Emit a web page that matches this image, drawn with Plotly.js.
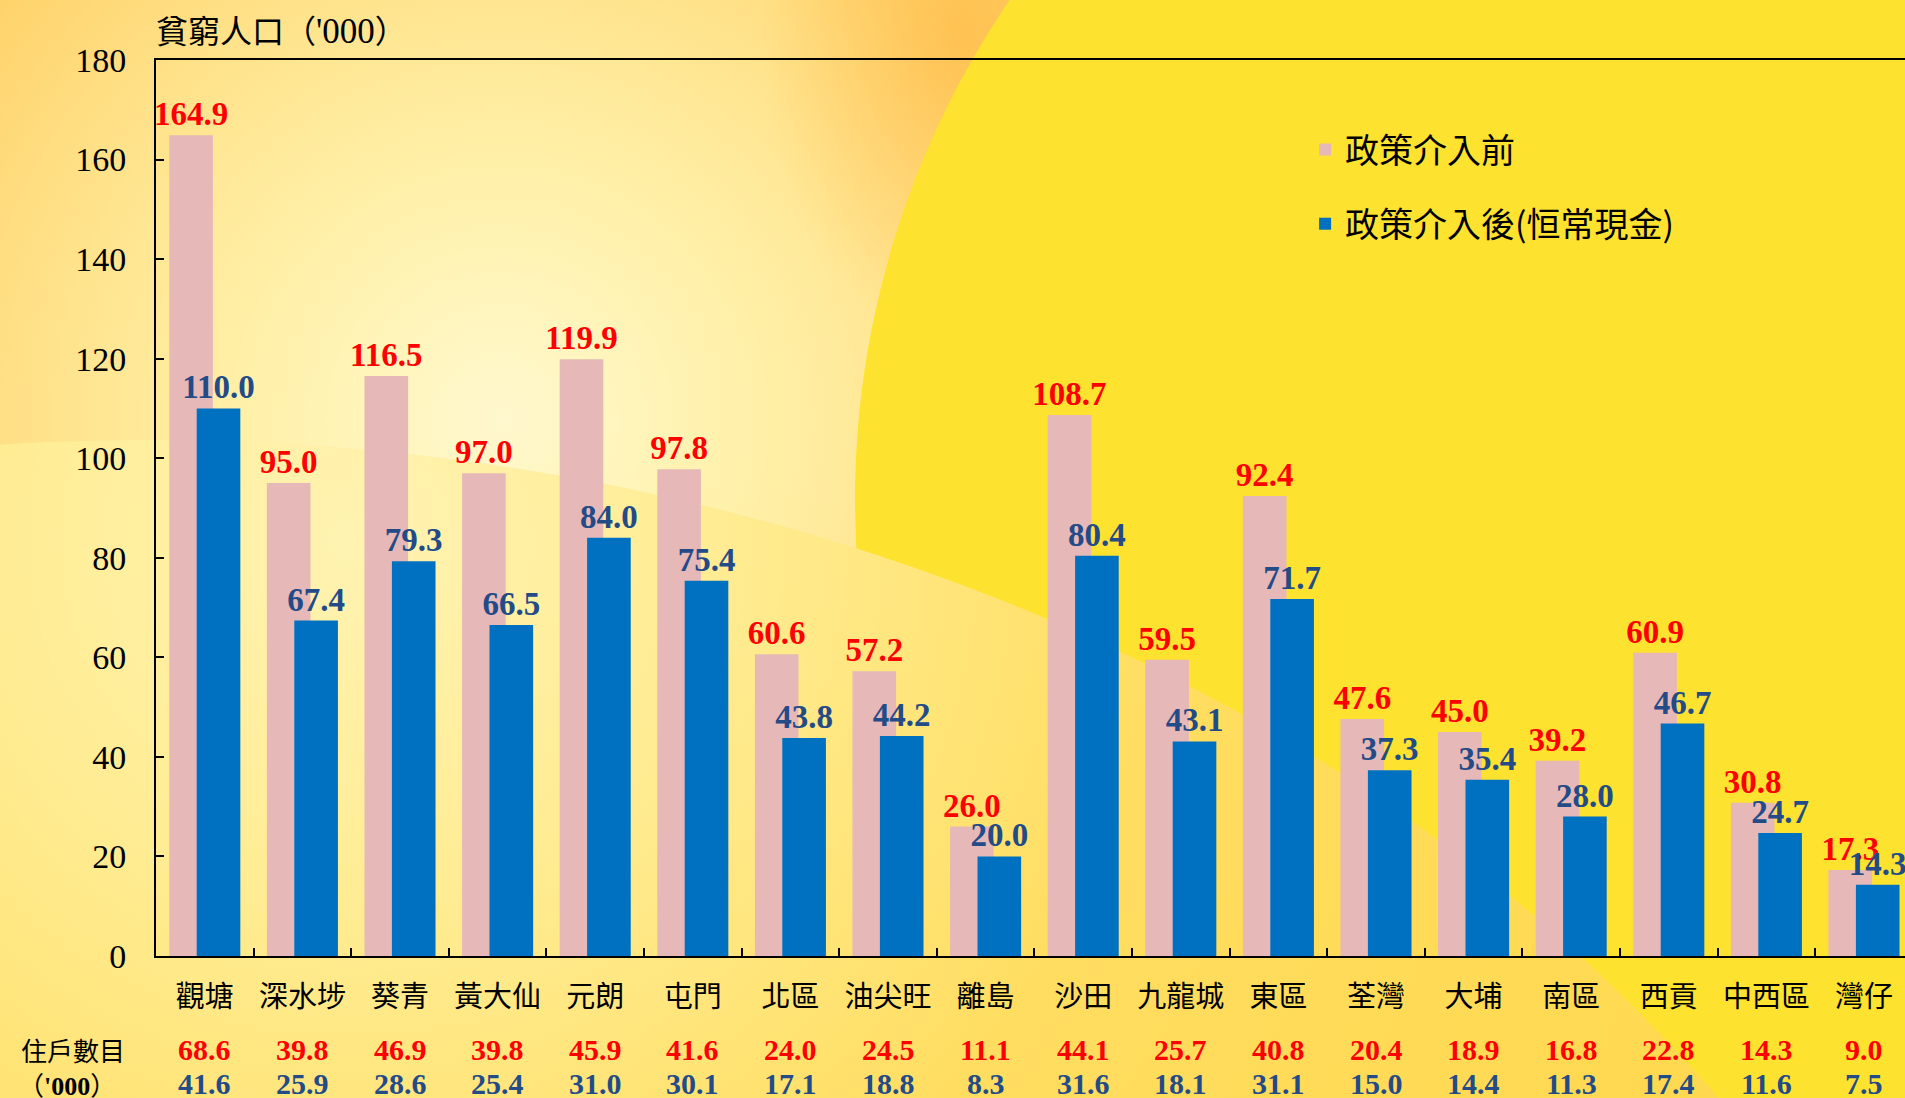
<!DOCTYPE html>
<html>
<head>
<meta charset="utf-8">
<script src="https://cdn.plot.ly/plotly-3.0.1.min.js"></script>
<style>
  html, body { margin: 0; padding: 0; }
  #wrap {
    position: relative; width: 1905px; height: 1098px; overflow: hidden;
    background:
      radial-gradient(ellipse 200px 300px at 960px 40px, rgba(255,180,60,0.6) 0%, rgba(255,190,70,0) 100%),
      radial-gradient(circle 980px at 500px 420px, #FFF8CE 0%, #FFF1AA 25%, #FFE086 50%, #FFCE62 72%, #FFC24E 100%);
  }
  #disc {
    position: absolute; left: 855px; top: -385px; width: 1770px; height: 1770px;
    border-radius: 50%; background: #FDE22F;
  }
  #band {
    position: absolute; left: -1750px; top: 440px; width: 3800px; height: 3020px;
    border-radius: 50%;
    background: radial-gradient(circle 1500px at 2100px 100px, #FFF3B2 0%, #FFEC92 25%, #FFDD60 55%, #FFD84E 100%);
  }
  #chart { position: absolute; left: 0; top: 0; width: 1905px; height: 1098px; }
</style>
</head>
<body>
<div id="wrap">
  <div id="disc"></div>
  <div id="band"></div>
  <div id="chart"></div>
</div>
<script>
// ---- data ----
const categories = ['觀塘','深水埗','葵青','黃大仙','元朗','屯門','北區','油尖旺','離島','沙田','九龍城','東區','荃灣','大埔','南區','西貢','中西區','灣仔'];
const beforeValues = [164.9, 95.0, 116.5, 97.0, 119.9, 97.8, 60.6, 57.2, 26.0, 108.7, 59.5, 92.4, 47.6, 45.0, 39.2, 60.9, 30.8, 17.3];
const afterValues  = [110.0, 67.4, 79.3, 66.5, 84.0, 75.4, 43.8, 44.2, 20.0, 80.4, 43.1, 71.7, 37.3, 35.4, 28.0, 46.7, 24.7, 14.3];
const householdsBefore = [68.6, 39.8, 46.9, 39.8, 45.9, 41.6, 24.0, 24.5, 11.1, 44.1, 25.7, 40.8, 20.4, 18.9, 16.8, 22.8, 14.3, 9.0];
const householdsAfter  = [41.6, 25.9, 28.6, 25.4, 31.0, 30.1, 17.1, 18.8, 8.3, 31.6, 18.1, 31.1, 15.0, 14.4, 11.3, 17.4, 11.6, 7.5];
const seriesNames = ['政策介入前', '政策介入後(恒常現金)'];
const yTickValues = [0, 20, 40, 60, 80, 100, 120, 140, 160, 180];

// ---- styles ----
const SERIF = 'Liberation Serif, Times New Roman, serif';
const CJK = 'Noto Sans CJK TC, sans-serif';
const PINK = '#E6B9B8', BLUE = '#0070C0', RED = '#FF0000', NAVY = '#234B88';

const traces = [
  {
    type: 'bar', name: seriesNames[0], x: categories, y: beforeValues,
    width: 0.447, offset: -0.364, legendgroup: 'a',
    marker: { color: PINK, line: { width: 0 } },
    texttemplate: '%{y:.1f}', textposition: 'outside', constraintext: 'none', cliponaxis: false,
    textfont: { family: SERIF, size: 33, color: RED, weight: 'bold' },
    hoverinfo: 'skip'
  },
  {
    type: 'bar', name: seriesNames[1], x: categories, y: afterValues,
    width: 0.447, offset: -0.083, legendgroup: 'b',
    marker: { color: BLUE, line: { width: 0 } },
    texttemplate: '%{y:.1f}', textposition: 'outside', constraintext: 'none', cliponaxis: false,
    textfont: { family: SERIF, size: 33, color: NAVY, weight: 'bold' },
    hoverinfo: 'skip'
  }
];

const annotations = [];
annotations.push({
  xref: 'paper', yref: 'paper', x: -0.0011, y: 1.0, yshift: 31, xanchor: 'left', yanchor: 'middle',
  showarrow: false,
  text: '貧窮人口（<span style="font-family:Liberation Serif;font-size:35px">\'000</span>）',
  font: { family: CJK, size: 32, color: '#000' }
});
annotations.push({
  xref: 'paper', yref: 'paper', x: -0.0475, y: -0.1047, xanchor: 'center', yanchor: 'middle',
  showarrow: false, text: '住戶數目', font: { family: CJK, size: 26, color: '#000' }
});
annotations.push({
  xref: 'paper', yref: 'paper', x: -0.0510, y: -0.1425, xanchor: 'center', yanchor: 'middle',
  showarrow: false,
  text: '（<span style="font-family:Liberation Serif;font-weight:bold">\'000</span>）',
  font: { family: CJK, size: 26, color: '#000' }
});
categories.forEach((c, i) => {
  annotations.push({
    xref: 'x', yref: 'paper', x: c, y: -0.1047, xanchor: 'center', yanchor: 'middle',
    showarrow: false, text: householdsBefore[i].toFixed(1),
    font: { family: SERIF, size: 30, color: RED, weight: 'bold' }
  });
  annotations.push({
    xref: 'x', yref: 'paper', x: c, y: -0.1425, xanchor: 'center', yanchor: 'middle',
    showarrow: false, text: householdsAfter[i].toFixed(1),
    font: { family: SERIF, size: 30, color: NAVY, weight: 'bold' }
  });
});

const layout = {
  width: 1905, height: 1098,
  margin: { l: 156, r: 0, t: 60, b: 142, pad: 0 },
  paper_bgcolor: 'rgba(0,0,0,0)', plot_bgcolor: 'rgba(0,0,0,0)',
  barmode: 'overlay',
  showlegend: true,
  legend: {
    x: 0.657, y: 0.932, xanchor: 'left', yanchor: 'top',
    bgcolor: 'rgba(0,0,0,0)', borderwidth: 0,
    traceorder: 'grouped', tracegroupgap: 27,
    font: { family: CJK, size: 34, color: '#000' }
  },
  xaxis: {
    type: 'category', range: [-0.5, 17.42],
    showline: true, linecolor: '#000', linewidth: 2, mirror: true,
    ticks: 'inside', tickson: 'boundaries', ticklen: 8, tickwidth: 2, tickcolor: '#000',
    ticklabelstandoff: 14,
    showgrid: false, zeroline: false,
    tickfont: { family: CJK, size: 29, color: '#000' }
  },
  yaxis: {
    range: [0, 180], tickvals: yTickValues, ticktext: yTickValues.map(String),
    showline: true, linecolor: '#000', linewidth: 2,
    ticks: 'inside', ticklen: 8, tickwidth: 2, tickcolor: '#000',
    ticklabelstandoff: 21,
    showgrid: false, zeroline: false,
    tickfont: { family: SERIF, size: 34, color: '#000' }
  },
  annotations: annotations
};

Plotly.newPlot('chart', traces, layout, { staticPlot: true, displayModeBar: false });
</script>
</body>
</html>
